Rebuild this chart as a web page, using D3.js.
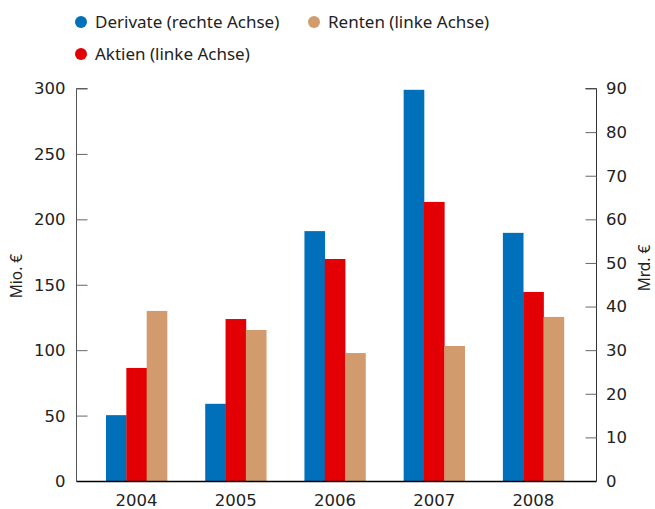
<!DOCTYPE html>
<html><head><meta charset="utf-8">
<script src="https://cdn.jsdelivr.net/npm/d3@7"></script>
<style>body{margin:0;background:#fff}svg{display:block}</style>
</head><body>
<svg id="c" width="655" height="509"></svg>
<script>
const years = ["2004","2005","2006","2007","2008"];
const derivate = [15.1, 17.7, 57.3, 89.7, 56.9];   // Mrd. € (right axis)
const aktien = [86.4, 123.8, 169.7, 213.3, 144.5];  // Mio. € (left axis)
const renten = [130, 115.4, 97.8, 103.2, 125.4];    // Mio. € (left axis)
const leftTicks = [0,50,100,150,200,250,300];
const rightTicks = [0,10,20,30,40,50,60,70,80,90];
const colors = {derivate:"#0070BA", aktien:"#E30005", renten:"#D29B6E"};

const svg = d3.select("#c");
const xL = 76.5, xR = 596.5, yB = 481, yT = 88.5;
const font = "'Noto Sans', sans-serif";
const tickFont = "'DejaVu Sans', sans-serif";

const x = d3.scaleBand().domain(years).range([86.9, 583]).paddingInner(0.385).paddingOuter(0.1925);
const sub = d3.scaleBand().domain(["derivate","aktien","renten"]).range([0, x.bandwidth()]);
const yLeft = d3.scaleLinear().domain([0,300]).range([yB, yT]);
const yRight = d3.scaleLinear().domain([0,90]).range([yB, yT]);

const series = [
  {key:"derivate", vals:derivate, scale:yRight},
  {key:"aktien", vals:aktien, scale:yLeft},
  {key:"renten", vals:renten, scale:yLeft}
];
series.forEach(s => {
  svg.append("g").selectAll("rect").data(years).join("rect")
    .attr("x", (d)=>x(d)+sub(s.key))
    .attr("width", sub.bandwidth()+0.3)
    .attr("y", (d,i)=>s.scale(s.vals[i]))
    .attr("height", (d,i)=>yB - s.scale(s.vals[i]))
    .attr("fill", colors[s.key]);
});

// left axis
const gl = svg.append("g").attr("transform",`translate(${xL},0)`)
  .call(d3.axisRight(yLeft).tickValues(leftTicks).tickSize(11).tickFormat(""));
gl.select(".domain").attr("stroke","#555").attr("d",`M11,${yT}H0V${yB}`);
gl.selectAll(".tick line").attr("stroke","#666");
svg.append("g").selectAll("text").data(leftTicks).join("text")
  .attr("x", xL-11).attr("y", d=>yLeft(d)).attr("dy","0.36em")
  .attr("text-anchor","end").attr("font-family",tickFont).attr("font-size",16.5).attr("fill","#222")
  .text(d=>d);

// right axis
const gr = svg.append("g").attr("transform",`translate(${xR},0)`)
  .call(d3.axisLeft(yRight).tickValues(rightTicks).tickSize(11).tickFormat(""));
gr.select(".domain").attr("stroke","#333").attr("d",`M-11,${yT}H0V${yB}`);
gr.selectAll(".tick line").attr("stroke","#666");
svg.append("g").selectAll("text").data(rightTicks).join("text")
  .attr("x", xR+9.5).attr("y", d=>yRight(d)).attr("dy","0.36em")
  .attr("text-anchor","start").attr("font-family",tickFont).attr("font-size",16.5).attr("fill","#222")
  .text(d=>d);

// baseline
svg.append("line").attr("x1",xL).attr("x2",xR).attr("y1",yB+0.5).attr("y2",yB+0.5).attr("stroke","#000").attr("stroke-width",1.5);

// x labels
svg.append("g").selectAll("text").data(years).join("text")
  .attr("x", d=>x(d)+x.bandwidth()/2).attr("y", 506)
  .attr("text-anchor","middle").attr("font-family",tickFont).attr("font-size",16.5).attr("fill","#222")
  .text(d=>d);

// axis titles
svg.append("text").attr("transform","translate(22,276) rotate(-90)").attr("text-anchor","middle")
  .attr("font-family",font).attr("font-size",15.5).attr("fill","#222").text("Mio. €");
svg.append("text").attr("transform","translate(650,268) rotate(-90)").attr("text-anchor","middle")
  .attr("font-family",font).attr("font-size",15.5).attr("fill","#222").text("Mrd. €");

// legend
const legend = [
  {key:"derivate", label:"Derivate (rechte Achse)", cx:81, cy:22},
  {key:"renten", label:"Renten (linke Achse)", cx:314, cy:22},
  {key:"aktien", label:"Aktien (linke Achse)", cx:81, cy:54}
];
const lg = svg.append("g").selectAll("g").data(legend).join("g");
lg.append("circle").attr("cx",d=>d.cx).attr("cy",d=>d.cy).attr("r",6).attr("fill",d=>colors[d.key]);
lg.append("text").attr("x",d=>d.cx+14).attr("y",d=>d.cy).attr("dy","0.35em")
  .attr("font-family",font).attr("font-size",17).attr("fill","#222").text(d=>d.label);
</script>
</body></html>
